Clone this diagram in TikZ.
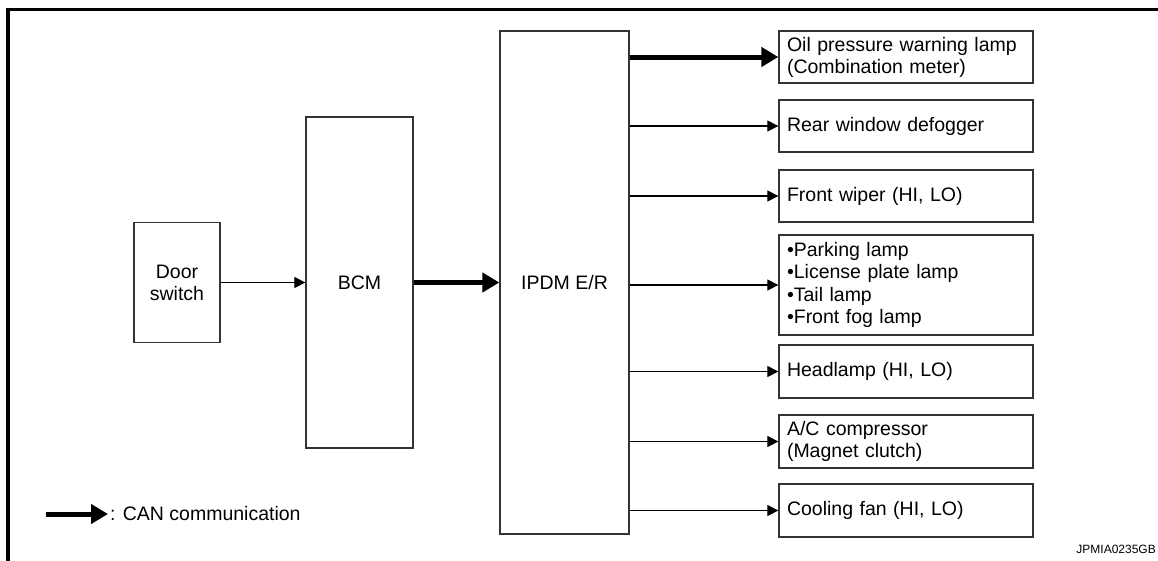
\documentclass[tikz,border=0pt]{standalone}
\usepackage{fontspec}
\setmainfont{Liberation Sans}
\usetikzlibrary{arrows.meta, positioning}

\begin{document}
\begin{tikzpicture}[
    x=1pt, y=-1pt,
    font=\fontsize{19.5}{22}\selectfont,
    unit/.style={rectangle, draw=black!80, line width=1.3pt, align=center},
    load/.style={rectangle, draw=black!80, line width=1.3pt, minimum width=254pt, minimum height=52pt, text width=238pt, inner xsep=8pt, align=left},
    arrow/.style={line width=1.2pt, -{Triangle[length=11pt,width=11pt]}},
    canarrow/.style={line width=5pt, -{Triangle[length=17pt,width=19pt]}}
]
\useasboundingbox (0,0) rectangle (1158,560);

% frame
\draw [line width=3.5pt] (8,600) -- (8,9.5) -- (1200,9.5);

% control units
\node (door) [unit, minimum width=86pt, minimum height=120pt] at (177,282.5) {Door\\switch};
\node (bcm) [unit, minimum width=107pt, minimum height=331pt] at (359.5,282.5) {BCM};
\node (ipdm) [unit, minimum width=129pt, minimum height=503pt] at (564.5,282.5) {IPDM E/R};

% outputs
\node (oil) [load] at (906,57) {Oil pressure warning lamp\\(Combination meter)};
\node (defogger) [load] at (906,126) {Rear window defogger};
\node (wiper) [load] at (906,196) {Front wiper (HI, LO)};
\node (lamps) [load, minimum height=100pt, font=\fontsize{19.5}{22.5}\selectfont] at (906,285) {•Parking lamp\\•License plate lamp\\•Tail lamp\\•Front fog lamp};
\node (headlamp) [load, minimum height=53pt] at (906,371.5) {Headlamp (HI, LO)};
\node (compressor) [load, minimum height=53pt] at (906,441.5) {A/C compressor\\(Magnet clutch)};
\node (fan) [load, minimum height=53pt] at (906,510.5) {Cooling fan (HI, LO)};

\draw [arrow] (door) -- (bcm);
\draw [canarrow] (bcm) -- (ipdm);
\draw [canarrow] (ipdm.east |- oil) -- (oil);
\foreach \target in {defogger, wiper, lamps, headlamp, compressor, fan}
    \draw [arrow] (ipdm.east |- \target) -- (\target);

% legend
\coordinate (legendstart) at (46,514);
\node (canlabel) [anchor=west, inner sep=2pt] at (108,514) {: CAN communication};
\draw [canarrow] (legendstart) -- (canlabel.west);

\node (figid) [anchor=base east, inner sep=0pt, font=\fontsize{12}{14}\selectfont] at (1156,553) {JPMIA0235GB};

\end{tikzpicture}
\end{document}
